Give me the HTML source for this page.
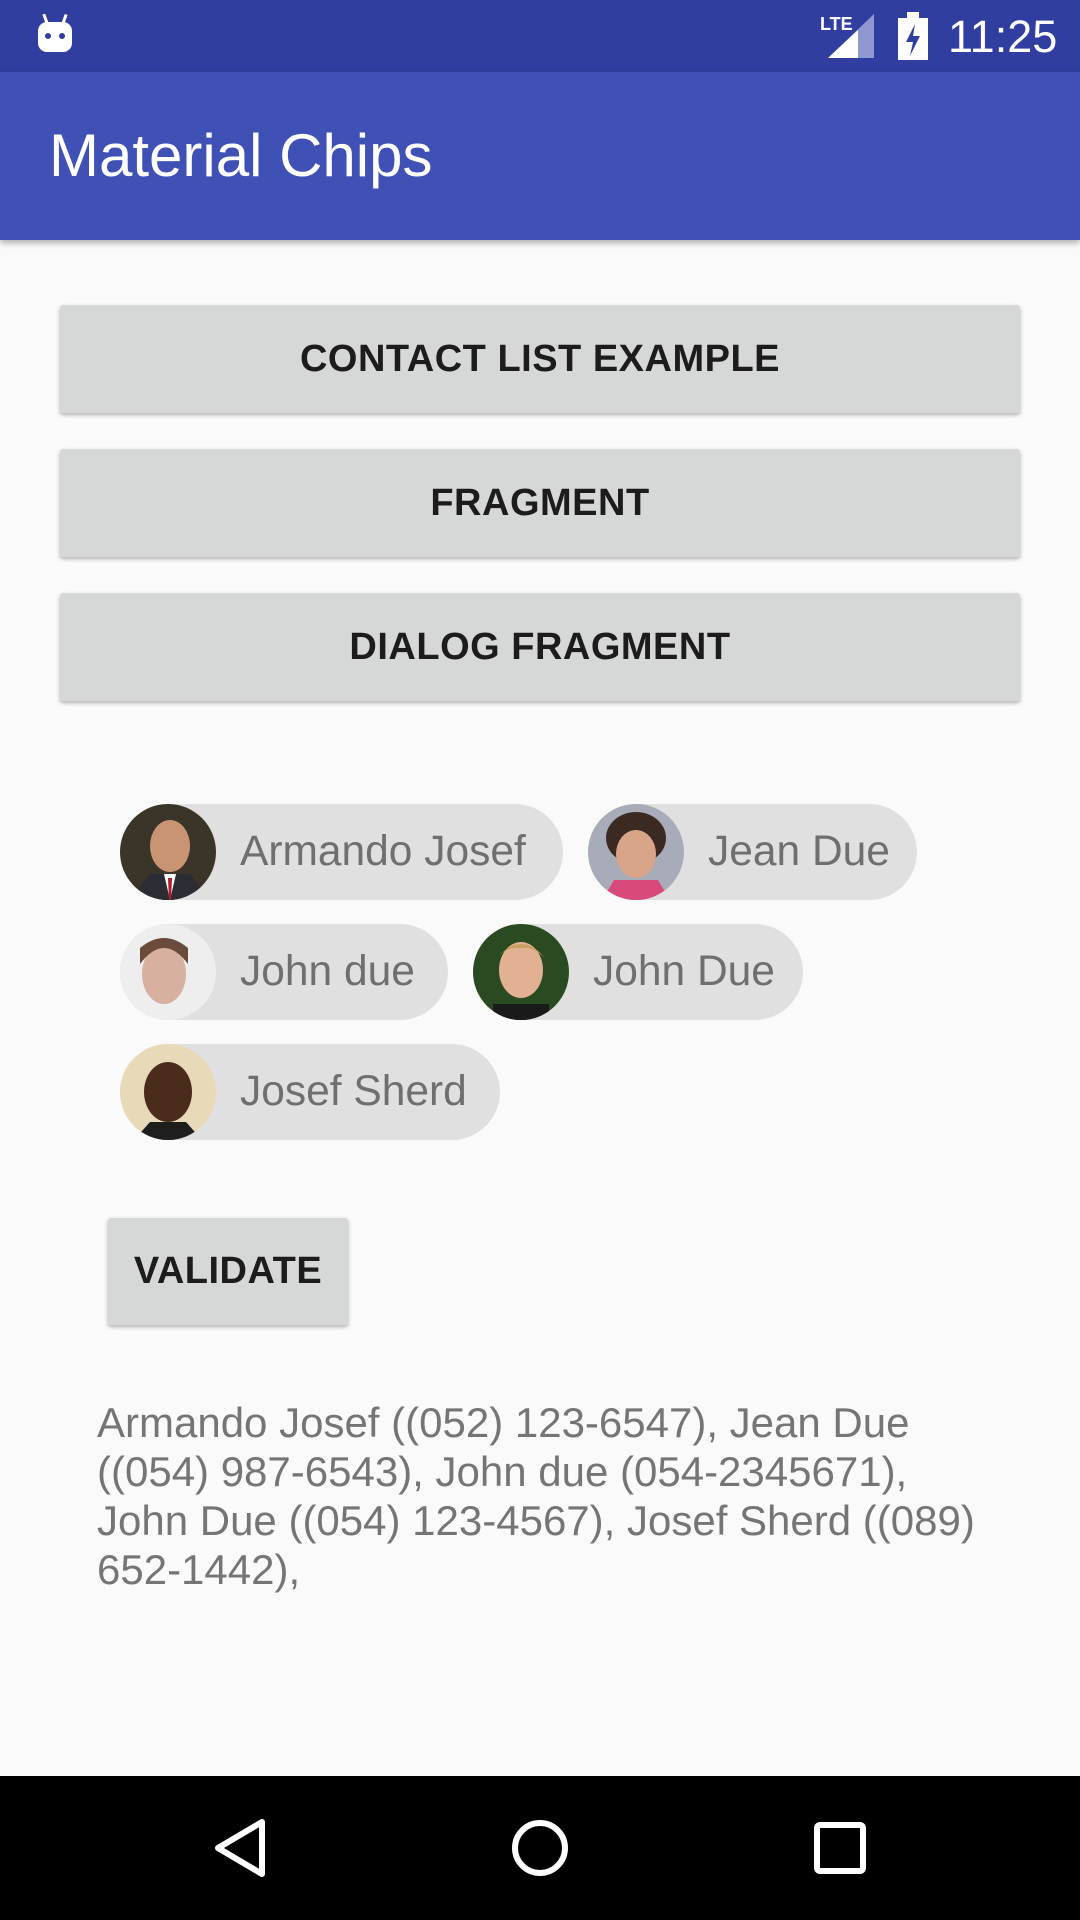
<!DOCTYPE html>
<html><head><meta charset="utf-8"><style>
*{margin:0;padding:0;box-sizing:border-box}
body{width:1080px;height:1920px;background:#FAFAFA;font-family:"Liberation Sans",sans-serif;position:relative;overflow:hidden}
.abs{position:absolute}
.status{left:0;top:0;width:1080px;height:72px;background:#303F9F}
.appbar{left:0;top:72px;width:1080px;height:168px;background:#3F51B5;box-shadow:0 3px 6px rgba(0,0,0,.3)}
.title{left:49px;top:123px;color:#fff;font-size:60px;line-height:66px}
.btn{background:#D6D7D7;box-shadow:0 2px 4px rgba(0,0,0,.3);border-radius:3px;color:#1c1c1c;font-size:38px;font-weight:bold;display:flex;align-items:center;justify-content:center;letter-spacing:0.5px}
.chip{background:#E0E0E0;border-radius:48px;height:96px;color:#6f6f6f;font-size:42.5px;display:flex;align-items:center}
.chip span{margin-left:120px}
.av{position:absolute;left:0;top:0;width:96px;height:96px;border-radius:50%;overflow:hidden}
.txt{left:97px;top:1398px;width:960px;color:#757575;font-size:42px;line-height:49px;white-space:nowrap}
.nav{left:0;top:1776px;width:1080px;height:144px;background:#000}
</style></head><body>
<div class="abs status"></div>
<svg class="abs" style="left:36px;top:14px" width="38" height="40" viewBox="0 0 38 40"><rect x="2" y="8" width="34" height="30" rx="9" fill="#fff"/><rect x="8" y="0" width="3" height="10" fill="#fff" transform="rotate(-20 9 5)"/><rect x="27" y="0" width="3" height="10" fill="#fff" transform="rotate(20 28 5)"/><circle cx="12" cy="22" r="3" fill="#303F9F"/><circle cx="26" cy="22" r="3" fill="#303F9F"/></svg>
<div class="abs" style="left:820px;top:14px;color:#fff;font-size:18px;font-weight:bold">LTE</div>
<svg class="abs" style="left:828px;top:14px" width="46" height="44"><polygon points="46,0 46,44 0,44" fill="#8e97cf"/><polygon points="30,16 30,44 0,44" fill="#fff"/></svg>
<svg class="abs" style="left:898px;top:12px" width="30" height="48"><rect x="0" y="6" width="30" height="42" fill="#fff"/><rect x="9" y="0" width="12" height="8" fill="#fff"/><polygon points="17,12 8,30 15,30 12,44 22,24 15,24" fill="#303F9F"/></svg>
<div class="abs" style="left:948px;top:12px;color:#fff;font-size:45px;line-height:50px">11:25</div>
<div class="abs appbar"></div>
<div class="abs title">Material Chips</div>
<div class="abs btn" style="left:60px;top:305px;width:960px;height:108px">CONTACT LIST EXAMPLE</div>
<div class="abs btn" style="left:60px;top:449px;width:960px;height:108px">FRAGMENT</div>
<div class="abs btn" style="left:60px;top:593px;width:960px;height:108px">DIALOG FRAGMENT</div>

<div class="abs chip" style="left:120px;top:804px;width:443px"><div class="av"><svg width="96" height="96"><rect width="96" height="96" fill="#3a3528"/><ellipse cx="50" cy="42" rx="20" ry="26" fill="#c99474"/><path d="M10 96 L30 70 L70 70 L90 96Z" fill="#2c2c34"/><path d="M44 70 L56 70 L50 96Z" fill="#fff"/><path d="M48 74 L52 74 L51 96 L49 96Z" fill="#b01c2a"/></svg></div><span>Armando Josef</span></div>
<div class="abs chip" style="left:588px;top:804px;width:329px"><div class="av"><svg width="96" height="96"><rect width="96" height="96" fill="#a7acb8"/><ellipse cx="48" cy="34" rx="30" ry="26" fill="#3a2a22"/><ellipse cx="48" cy="50" rx="20" ry="24" fill="#d9a58a"/><path d="M14 96 L26 76 L70 76 L82 96Z" fill="#d84a7a"/></svg></div><span>Jean Due</span></div>
<div class="abs chip" style="left:120px;top:924px;width:328px"><div class="av"><svg width="96" height="96"><rect width="96" height="96" fill="#eee"/><ellipse cx="44" cy="50" rx="22" ry="30" fill="#d8b0a0"/><path d="M20 40 Q44 8 68 40 L68 24 Q44 4 20 24Z" fill="#6a4a3a"/></svg></div><span>John due</span></div>
<div class="abs chip" style="left:473px;top:924px;width:330px"><div class="av"><svg width="96" height="96"><rect width="96" height="96" fill="#2a4a22"/><ellipse cx="48" cy="46" rx="22" ry="28" fill="#e2b093"/><path d="M24 34 Q48 6 72 34 Q60 22 48 24 Q34 22 24 34Z" fill="#c8a060"/><rect x="20" y="80" width="56" height="16" fill="#1a1a1a"/></svg></div><span>John Due</span></div>
<div class="abs chip" style="left:120px;top:1044px;width:380px"><div class="av"><svg width="96" height="96"><rect width="96" height="96" fill="#e8d9b8"/><ellipse cx="48" cy="48" rx="24" ry="30" fill="#4a2c1c"/><path d="M14 96 L30 78 L66 78 L82 96Z" fill="#1e1e1e"/></svg></div><span>Josef Sherd</span></div>

<div class="abs btn" style="left:108px;top:1218px;width:240px;height:107px">VALIDATE</div>
<div class="abs txt">Armando Josef ((052) 123-6547), Jean Due<br>((054) 987-6543), John due (054-2345671),<br>John Due ((054) 123-4567), Josef Sherd ((089)<br>652-1442),</div>

<div class="abs nav"></div>
<svg class="abs" style="left:0;top:1776px" width="1080" height="144">
<polygon points="262,46 262,98 218,72" fill="none" stroke="#fff" stroke-width="6" stroke-linejoin="round"/>
<circle cx="540" cy="72" r="25" fill="none" stroke="#fff" stroke-width="6"/>
<rect x="817" y="49" width="46" height="46" rx="3" fill="none" stroke="#fff" stroke-width="6"/>
</svg>
</body></html>
